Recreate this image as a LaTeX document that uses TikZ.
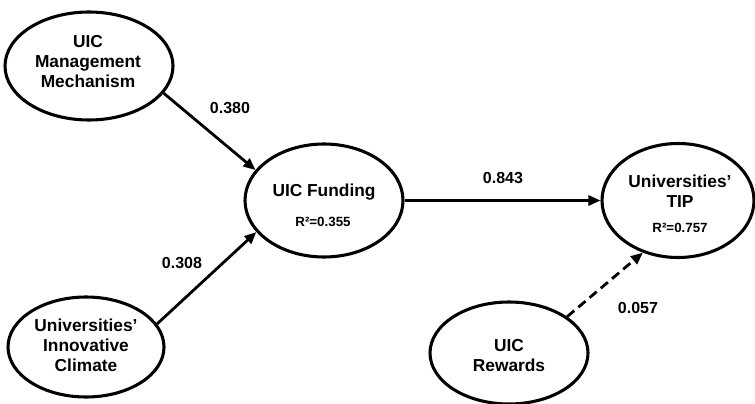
\documentclass[tikz,border=0pt]{standalone}
\usepackage{fontspec}
\setmainfont{Liberation Sans}
\usetikzlibrary{shapes.geometric,arrows.meta}
\begin{document}
\begin{tikzpicture}[x=0.75pt,y=-0.75pt,
  latent/.style={ellipse,draw,line width=2.3pt,inner sep=0pt},
  ttext/.style={align=center,font=\fontsize{13}{15}\selectfont\bfseries,inner sep=0pt},
  rtext/.style={font=\fontsize{10}{12}\selectfont\bfseries,inner sep=0pt},
  coef/.style={font=\fontsize{12}{14}\selectfont\bfseries,inner sep=0pt},
  path/.style={line width=2.1pt,-{Triangle[length=9pt,width=7.5pt]}},
  dpath/.style={path,dash pattern=on 7pt off 4pt}]
\useasboundingbox (0,0) rectangle (755,403);
% ellipses
\node[latent,minimum width=126pt,minimum height=81pt] (mgmt) at (89,66) {};
\node[latent,minimum width=117pt,minimum height=75pt] (innov) at (86,347) {};
\node[latent,minimum width=118.5pt,minimum height=84.75pt] (fund) at (324,200.5) {};
\node[latent,minimum width=114pt,minimum height=85.5pt] (tip) at (678,200.5) {};
\node[latent,minimum width=118.5pt,minimum height=76.5pt] (rew) at (509,353) {};
% texts
\node[ttext] (mgmtt) at (88,62) {UIC\\Management\\Mechanism};
\node[ttext] (innovt) at (86,345) {Universities’\\Innovative\\Climate};
\node[ttext] (fundt) at (324,192) {UIC Funding};
\node[rtext] (fundr) at (323,222) {R²=0.355};
\node[ttext] (tipt) at (680,191) {Universities’\\TIP};
\node[rtext] (tipr) at (680,228) {R²=0.757};
\node[ttext] (rewt) at (509,356) {UIC\\Rewards};
% connectors
\draw[path] (mgmt.-20) -- (fund.156);
\draw[path] (innov.18) -- (fund.205);
\draw[path] (fund.east) -- (tip.west);
\draw[dpath] (rew.32) -- (tip.236);
% coefficients
\node[coef] (c1) at (230,108) {0.380};
\node[coef] (c2) at (182,263) {0.308};
\node[coef] (c3) at (503,178) {0.843};
\node[coef] (c4) at (638,308) {0.057};
\end{tikzpicture}
\end{document}
